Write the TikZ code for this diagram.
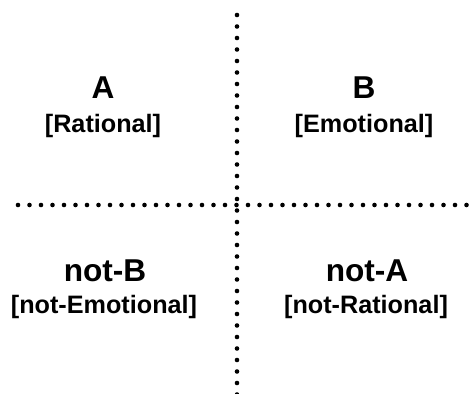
\documentclass[tikz,border=0pt]{standalone}
\usepackage{fontspec}
\setmainfont{Liberation Sans}
\usepackage{tikz}
\usetikzlibrary{positioning}

\begin{document}
\begin{tikzpicture}[
  x=0.5pt, y=-0.5pt,
  every node/.style={inner sep=0pt, anchor=base},
  title/.style={font=\fontsize{15.8}{19}\selectfont\bfseries},
  sub/.style={font=\fontsize{12.6}{15}\selectfont\bfseries},
  dots/.style={line width=2.3pt, line cap=round, dash pattern=on 0pt off 5.75pt},
]
  \useasboundingbox (0,0) rectangle (475,394);

  % Axes
  \coordinate (vtop) at (237,15);
  \coordinate (vbot) at (237,400);
  \coordinate (hleft) at (18,205);
  \coordinate (hright) at (480,205);
  \draw[dots] (vtop) -- (vbot);
  \draw[dots] (hleft) -- (hright);

  % Upper quadrants
  \node[title] (a) at (103,99) {A};
  \node[sub] (rat) at (103,133) {[Rational]};
  \node[title] (b) at (364,99) {B};
  \node[sub] (emo) at (364,133) {[Emotional]};

  % Lower quadrants
  \node[title] (notb) at (105,282) {not-B};
  \node[sub] (notemo) at (104,314) {[not-Emotional]};
  \node[title] (nota) at (367,282) {not-A};
  \node[sub] (notrat) at (366,314) {[not-Rational]};
\end{tikzpicture}
\end{document}
